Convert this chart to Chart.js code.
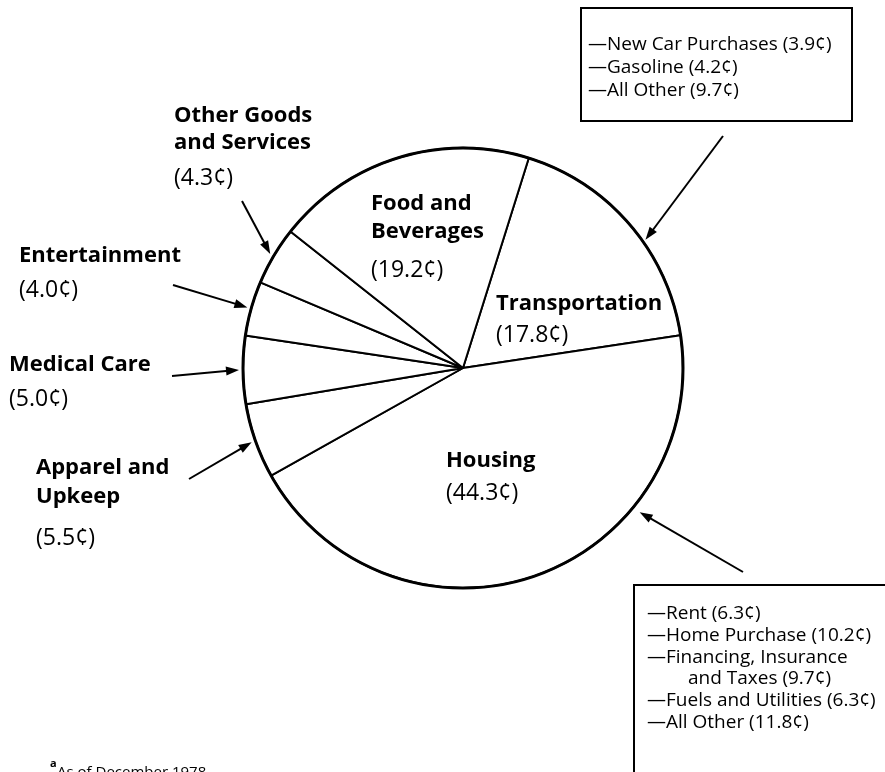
<!DOCTYPE html>
<html>
<head>
<meta charset="utf-8">
<script src="https://cdn.jsdelivr.net/npm/chart.js@4/dist/chart.umd.min.js"></script>
<style>
  html, body { margin: 0; padding: 0; background: #ffffff; }
  #wrap { width: 885px; height: 772px; position: relative; }
</style>
</head>
<body>
<div id="wrap"><canvas id="c" width="885" height="772"></canvas></div>
<script>
// ---- Data ----
const categories = [
  ['Transportation'],
  ['Housing'],
  ['Apparel and', 'Upkeep'],
  ['Medical Care'],
  ['Entertainment'],
  ['Other Goods', 'and Services'],
  ['Food and', 'Beverages']
];
const values = [17.8, 44.3, 5.5, 5.0, 4.0, 4.3, 19.2];

const transportationItems = ['New Car Purchases', 'Gasoline', 'All Other'];
const transportationValues = [3.9, 4.2, 9.7];

const housingItems = [['Rent'], ['Home Purchase'], ['Financing, Insurance', 'and Taxes'], ['Fuels and Utilities'], ['All Other']];
const housingValues = [6.3, 10.2, 9.7, 6.3, 11.8];

const footnote = 'As of December 1978';

// ---- Layout (positions / styles only) ----
const BOLD = 'bold 22px "Open Sans"';
const REG = '23px "Open Sans"';
const BOX = '19px "Open Sans"';
const fmt = v => '(' + v.toFixed(1) + '\u00A2)';

const labelLayout = {
  0: { x: 496, lines: [310], val: 342 },
  1: { x: 446, lines: [467], val: 500 },
  2: { x: 36, lines: [474, 503], val: 545, arrow: [189, 479], frac: 0.5 },
  3: { x: 9, lines: [371], val: 406, arrow: [172, 376], frac: 0.5 },
  4: { x: 19, lines: [262], val: 297, arrow: [173, 285], frac: 0.5 },
  5: { x: 174, lines: [122, 149], val: 185, arrow: [242, 201], frac: 0.5 },
  6: { x: 371, lines: [210, 238], val: 277 }
};

function drawArrow(ctx, x1, y1, x2, y2) {
  const ang = Math.atan2(y2 - y1, x2 - x1);
  const head = 13, half = 4.5;
  ctx.save();
  ctx.strokeStyle = '#000';
  ctx.fillStyle = '#000';
  ctx.lineWidth = 2;
  ctx.beginPath();
  ctx.moveTo(x1, y1);
  ctx.lineTo(x2 - head * 0.8 * Math.cos(ang), y2 - head * 0.8 * Math.sin(ang));
  ctx.stroke();
  ctx.beginPath();
  ctx.moveTo(x2, y2);
  ctx.lineTo(x2 - head * Math.cos(ang) + half * Math.sin(ang), y2 - head * Math.sin(ang) - half * Math.cos(ang));
  ctx.lineTo(x2 - head * Math.cos(ang) - half * Math.sin(ang), y2 - head * Math.sin(ang) + half * Math.cos(ang));
  ctx.closePath();
  ctx.fill();
  ctx.restore();
}

function arcPoint(arc, frac, extra) {
  const a = arc.startAngle + frac * (arc.endAngle - arc.startAngle);
  const r = arc.outerRadius + extra;
  return [arc.x + r * Math.cos(a), arc.y + r * Math.sin(a)];
}

const annotations = {
  id: 'annotations',
  afterDatasetsDraw(chart) {
    const ctx = chart.ctx;
    const meta = chart.getDatasetMeta(0);
    const arcs = meta.data;
    const c = arcs[0];

    ctx.save();
    ctx.strokeStyle = '#000';
    ctx.lineWidth = 3;
    ctx.beginPath();
    ctx.arc(c.x, c.y, c.outerRadius, 0, Math.PI * 2);
    ctx.stroke();
    ctx.restore();

    ctx.save();
    ctx.fillStyle = '#000';
    ctx.textBaseline = 'alphabetic';
    ctx.textAlign = 'left';
    const labels = chart.data.labels;
    const data = chart.data.datasets[0].data;
    labels.forEach((lines, i) => {
      const L = labelLayout[i];
      ctx.font = BOLD;
      lines.forEach((t, j) => ctx.fillText(t, L.x, L.lines[j]));
      ctx.font = REG;
      ctx.fillText(fmt(data[i]), L.x, L.val);
      if (L.arrow) {
        const [tx, ty] = arcPoint(arcs[i], L.frac, 4);
        drawArrow(ctx, L.arrow[0], L.arrow[1], tx, ty);
      }
    });

    // Transportation breakdown box
    ctx.lineWidth = 2;
    ctx.strokeStyle = '#000';
    ctx.strokeRect(581, 8, 271, 113);
    ctx.font = BOX;
    transportationItems.forEach((t, j) => {
      ctx.fillText('\u2014' + t + ' ' + fmt(transportationValues[j]), 588, 50 + j * 23);
    });
    {
      const [tx, ty] = arcPoint(arcs[0], 0.586, 3);
      drawArrow(ctx, 723, 136, tx, ty);
    }

    // Housing breakdown box
    ctx.beginPath();
    ctx.moveTo(634, 800);
    ctx.lineTo(634, 585);
    ctx.lineTo(900, 585);
    ctx.stroke();
    let y = 619;
    housingItems.forEach((lines, j) => {
      lines.forEach((t, k) => {
        const last = k === lines.length - 1;
        const txt = (k === 0 ? '\u2014' : '') + t + (last ? ' ' + fmt(housingValues[j]) : '');
        ctx.fillText(txt, k === 0 ? 647 : 688, y);
        y += 21.8;
      });
    });
    {
      const [tx, ty] = arcPoint(arcs[1], 0.30, 8);
      drawArrow(ctx, 743, 572, tx, ty);
    }

    // footnote
    ctx.font = 'bold 11px "Open Sans"';
    ctx.fillText('a', 50, 767);
    ctx.font = '15px "Open Sans"';
    ctx.fillText(footnote, 57, 777);
    ctx.restore();
  }
};

new Chart(document.getElementById('c'), {
  type: 'pie',
  data: {
    labels: categories,
    datasets: [{
      data: values,
      backgroundColor: '#ffffff',
      borderColor: '#000000',
      borderWidth: 2,
      hoverOffset: 0
    }]
  },
  options: {
    responsive: false,
    animation: false,
    rotation: 17.4,
    radius: 220,
    layout: { padding: { left: 41, right: 0, top: 0, bottom: 36 } },
    plugins: {
      legend: { display: false },
      tooltip: { enabled: false },
      title: { display: false }
    },
    events: []
  },
  plugins: [annotations]
});
</script>
</body>
</html>
